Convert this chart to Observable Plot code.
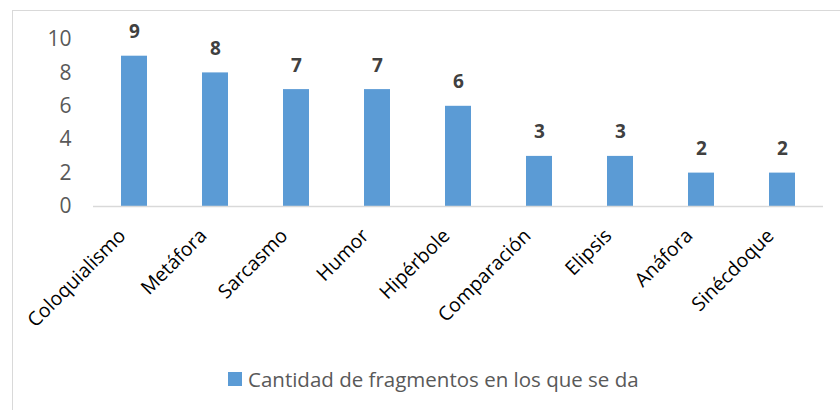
<!DOCTYPE html>
<html>
<head>
<meta charset="utf-8">
<script src="https://cdn.jsdelivr.net/npm/d3@7"></script>
<script src="https://cdn.jsdelivr.net/npm/@observablehq/plot@0.6"></script>
<style>
  html, body { margin: 0; padding: 0; background: #fff; overflow: hidden; }
  #wrap { position: relative; width: 840px; height: 410px; font-family: "Open Sans", sans-serif; }
  #frame { position: absolute; left: 12px; top: 10px; width: 900px; height: 500px; border: 1px solid #d9d9d9; box-sizing: border-box; }
  #chart { position: absolute; left: 0; top: 0; }
  #legend { position: absolute; left: 228px; top: 365px; display: flex; align-items: center; font-size: 20.5px; color: #595959; line-height: 28px; }
  #legend .sw { width: 14px; height: 14px; background: #5b9bd5; margin-right: 6px; }
</style>
</head>
<body>
<div id="wrap">
  <div id="frame"></div>
  <div id="chart"></div>
  <div id="legend"><span class="sw"></span><span id="legtext"></span></div>
</div>
<script>
const categories = ["Coloquialismo", "Metáfora", "Sarcasmo", "Humor", "Hipérbole", "Comparación", "Elipsis", "Anáfora", "Sinécdoque"];
const values = [9, 8, 7, 7, 6, 3, 3, 2, 2];
const yTicks = [0, 2, 4, 6, 8, 10];
const seriesName = "Cantidad de fragmentos en los que se da";

const data = categories.map((c, i) => ({category: c, value: values[i]}));
const H = 355;

const plot = Plot.plot({
  width: 840,
  height: H,
  marginTop: 39,
  marginBottom: H - 206,
  marginLeft: 93,
  marginRight: 17,
  style: {fontFamily: "'Open Sans', sans-serif", fontSize: "19px", background: "transparent", overflow: "visible"},
  x: {domain: categories, paddingInner: 0.68, paddingOuter: 0.34, label: null},
  y: {domain: [0, 10], label: null},
  marks: [
    Plot.axisY({ticks: yTicks, tickSize: 0, tickPadding: 22, fontSize: 21, color: "#595959", label: null}),
    Plot.axisX({tickSize: 0, tickPadding: 26, dx: -12, tickRotate: -45, fontSize: 19.5, color: "#000", label: null}),
    Plot.barY(data, {x: "category", y: "value", fill: "#5b9bd5"}),
    Plot.ruleY([0], {stroke: "#d9d9d9", strokeWidth: 1.5}),
    Plot.text(data, {x: "category", y: "value", text: d => String(d.value), dy: -24, fontSize: 19, fontWeight: "bold", fill: "#404040"})
  ]
});
document.getElementById("chart").appendChild(plot);
document.getElementById("legtext").textContent = seriesName;
</script>
</body>
</html>
